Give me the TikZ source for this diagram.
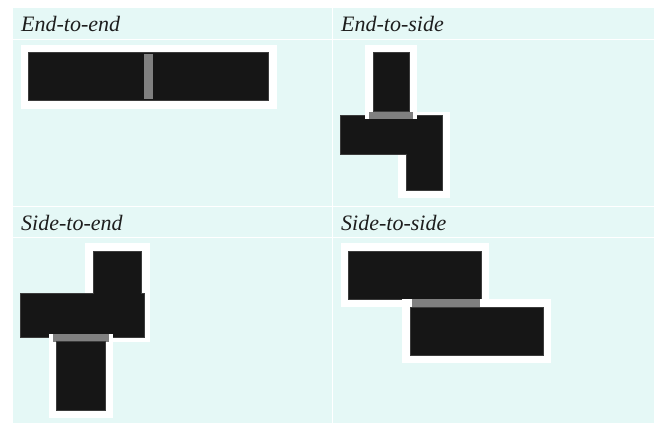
\documentclass[tikz,border=0pt]{standalone}
\usepackage{fontspec}
\setmainfont{Liberation Serif}
\definecolor{panelbg}{RGB}{229,248,246}
\definecolor{blk}{RGB}{22,22,22}
\definecolor{blkedge}{RGB}{60,60,60}
\definecolor{gluec}{RGB}{128,128,128}
\definecolor{txt}{RGB}{30,30,30}
\tikzset{
  pad/.style={fill=white},
  part/.style={fill=blk, draw=blkedge, line width=0.6pt},
  glue/.style={fill=gluec},
  sep/.style={draw=white, line width=1.3pt},
  head/.style={anchor=base west, inner sep=0pt, text=txt, font=\fontsize{22}{26}\selectfont\itshape}
}
\begin{document}
\begin{tikzpicture}[x=1pt,y=-1pt]
\useasboundingbox (0,0) rectangle (654,423);
\fill[white] (0,0) rectangle (654,423);
\fill[panelbg] (13,8) rectangle (654,423);
% separators
\draw[sep] (13,39.5) -- (654,39.5);
\draw[sep] (13,206.5) -- (654,206.5);
\draw[sep] (13,237.5) -- (654,237.5);
\draw[sep] (332.3,8) -- (332.3,423);
% headings
\node[head] (h1) at (21,31) {End-to-end};
\node[head] (h2) at (341,31) {End-to-side};
\node[head] (h3) at (21,230) {Side-to-end};
\node[head] (h4) at (341,230) {Side-to-side};
% Panel 1: end-to-end
\fill[pad] (20.7,45) rectangle (276.7,108.7);
\filldraw[part] (28.7,52.7) rectangle (268.7,100.3);
\fill[glue] (144.3,54.3) rectangle (153,99);
% Panel 2: end-to-side
\fill[pad] (397.7,111.7) rectangle (450,197.7);
\filldraw[part] (340.3,115.7) -- (442.3,115.7) -- (442.3,190) -- (406,190) -- (406,154.7) -- (340.3,154.7) -- cycle;
\fill[pad] (365,45) rectangle (416.7,119.3);
\filldraw[part] (373.3,52.7) rectangle (409,111);
\fill[glue] (369,111.7) rectangle (413.3,119);
% Panel 3: side-to-end
\fill[pad] (85.3,243.3) rectangle (149.7,341.7);
\filldraw[part] (93.3,251.7) -- (141.3,251.7) -- (141.3,293.3) -- (144,293.3) -- (144,337.3) -- (20.7,337.3) -- (20.7,293.3) -- (93.3,293.3) -- cycle;
\fill[pad] (48.7,334) rectangle (113.3,418.3);
\fill[glue] (52.7,334) rectangle (108.7,341.7);
\filldraw[part] (56.7,341.7) rectangle (105.3,410.7);
% Panel 4: side-to-side
\fill[pad] (340.7,243.3) rectangle (489,306.7);
\filldraw[part] (348.3,251) rectangle (481.7,299.3);
\fill[pad] (402.3,299.3) rectangle (551,362.7);
\fill[glue] (412.3,299.3) rectangle (479.7,307);
\filldraw[part] (410.3,307) rectangle (543.3,355);
\end{tikzpicture}
\end{document}
